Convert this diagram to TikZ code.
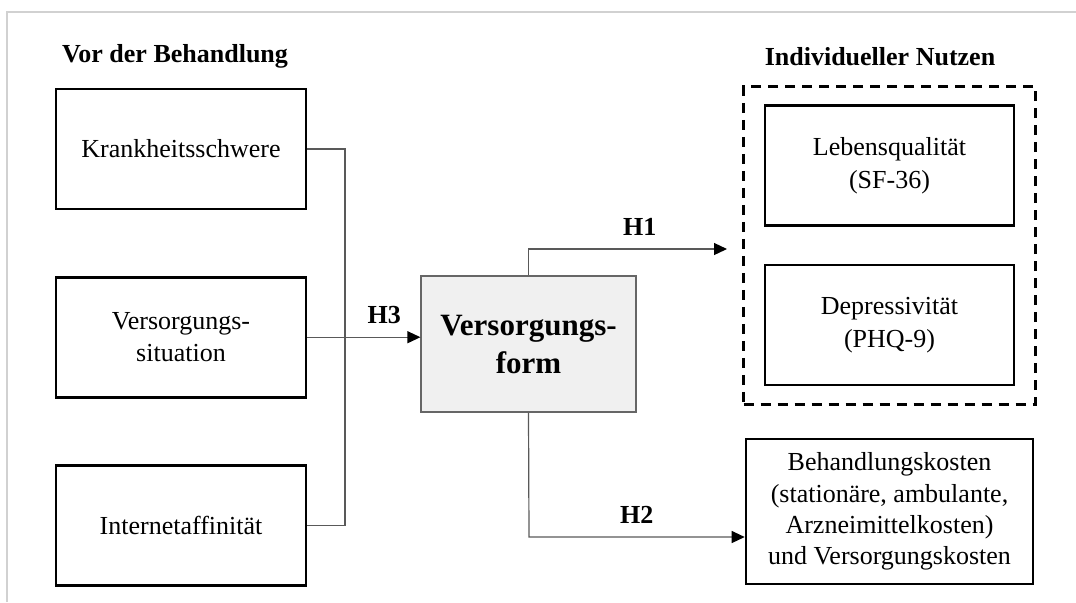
\documentclass[tikz,border=0pt]{standalone}
\usepackage{fontspec}
\setmainfont{Liberation Serif}
\usepackage{tikz}
\usetikzlibrary{arrows.meta,calc,positioning,fit}
\tikzset{%
        x = 0.5pt,
        y = -0.5pt,
        node distance = 32.8pt
}
\tikzstyle{box}=[
    draw = black,
    line width = 1.3pt,
    fill = white,
    align = center,
    minimum width = 125pt,
    minimum height = 60pt,
    font = \fontsize{13}{15.6}\selectfont
]
\tikzstyle{head}=[
    font = \fontsize{13}{15.6}\selectfont\bfseries
]
\tikzstyle{link}=[
    draw = black!65,
    line width = 0.6pt
]
\tikzstyle{arr}=[
    link,
    -{Triangle[length=6.5pt,width=6pt,black]}
]

\begin{document}
\begin{tikzpicture}
        \useasboundingbox (0,0) rectangle (1076,602);
        \draw[black!18, line width=0.6pt] (7,602) -- (7,12) -- (1076,12);
        \node[head] (vor) at (175,56) {Vor der Behandlung};
        \node[head] (nutz) at (880,57) {Individueller Nutzen};
        \node[box] (kr) at (181,149) {Krankheitsschwere};
        \node[box] (vs) [below=of kr] {Versorgungs-\\situation};
        \node[box] (ia) [below=of vs] {Internetaffinität};
        \node[draw=black!60, line width=0.6pt, fill=black!6, minimum width=107.5pt,
              minimum height=68pt, align=center,
              font=\fontsize{15.5}{19}\selectfont\bfseries] (form) at (528.5,344) {Versorgungs-\\form};
        \node[box, minimum width=124.5pt, font=\fontsize{13}{16.5}\selectfont] (lq) at (889.5,165.5) {Lebensqualität\\(SF-36)};
        \node[box, minimum width=124.5pt, font=\fontsize{13}{16.5}\selectfont] (dp) [below=18.5pt of lq] {Depressivität\\(PHQ-9)};
        \node[draw, dashed, line width=1.3pt, dash pattern=on 5pt off 3.5pt,
              inner xsep=10pt, inner ysep=9pt, fit=(lq)(dp)] (grp) {};
        \node[box, minimum width=143.5pt, minimum height=72.5pt] (kost) at (889.5,511.5)
              {Behandlungskosten\\(stationäre, ambulante,\\Arzneimittelkosten)\\und Versorgungskosten};
        \coordinate (jn) at (345,337);
        \coordinate (h1) at (727,249);
        \coordinate (h2) at (529,537);
      \draw[link] (kr.east) -| (jn) |- (ia.east);
      \draw[arr] (vs.east) -- node[head, pos=0.68, above=3pt] {H3} (vs.east -| form.west);
      \draw[arr] (form.north) |- node[head, pos=0.78, above=3pt] {H1} (h1);
      \draw[arr] (form.south) -- (h2) -- node[head, pos=0.5, above=3pt] {H2} (h2 -| kost.west);
    \end{tikzpicture}
\end{document}
